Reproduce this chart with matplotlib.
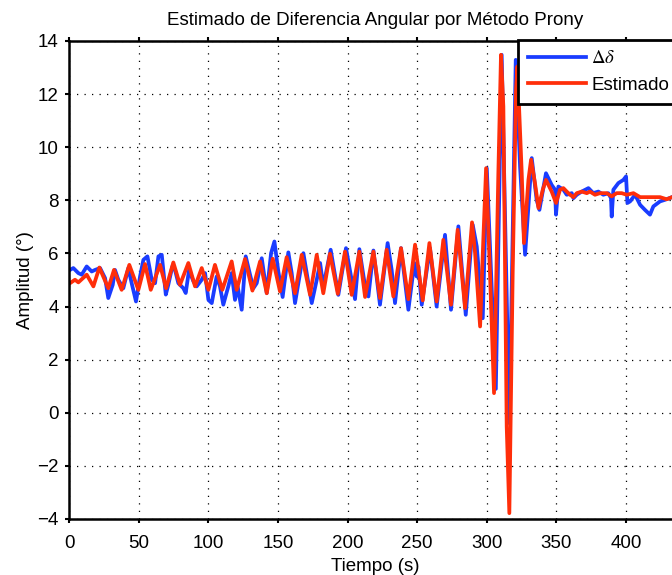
import matplotlib
matplotlib.use("Agg")
import matplotlib.pyplot as plt

plt.rcParams["font.family"] = ["Liberation Sans", "DejaVu Sans"]
plt.rcParams["mathtext.fontset"] = "stix"

t_delta = [0.7, 3.1, 6.7, 9.1, 12.7, 16.3, 18.7, 22.3, 25.9, 28.2, 31.4, 33.0, 35.4,
           39.0, 42.6, 45.0, 48.1, 51.0, 53.4, 56.3, 59.4, 61.8, 64.2, 66.6, 69.5,
           71.3, 74.2, 76.1, 78.5, 82.1, 83.8, 86.2, 89.3, 91.7, 95.3, 97.7, 100.1,
           102.5, 106.0, 108.4, 110.8, 114.4, 116.8, 119.2, 121.1, 124.0, 126.9,
           130.0, 132.4, 134.8, 138.4, 142.0, 145.1, 147.5, 150.3, 153.4, 157.5,
           159.9, 162.3, 168.3, 174.3, 177.9, 180.3, 182.6, 187.9, 193.4, 198.9,
           205.4, 208.5, 212.6, 215.0, 218.6, 223.3, 228.8, 231.7, 234.1, 238.4,
           243.7, 248.0, 249.7, 250.9, 253.3, 259.2, 264.0, 270.0, 274.3, 279.6,
           284.9, 289.9, 292.8, 297.1, 300.0, 306.5, 310.7, 316.2, 320.8, 323.9,
           327.5, 332.3, 335.8, 337.8, 342.5, 346.6, 349.0, 349.7, 351.4, 355.0,
           357.4, 361.0, 362.2, 364.6, 368.2, 373.0, 376.5, 380.1, 383.7, 387.3,
           389.2, 389.7, 390.9, 394.5, 398.1, 400.0, 401.0, 402.9, 406.5, 410.1,
           413.6, 417.2, 419.6, 424.4, 428.0, 433.0]
v_delta = [5.38, 5.45, 5.26, 5.20, 5.51, 5.32, 5.38, 5.45, 5.07, 4.32, 4.82, 5.38, 5.01,
           4.69, 5.45, 4.88, 4.19, 5.13, 5.76, 5.89, 5.01, 4.88, 5.89, 5.95, 4.45,
           4.82, 5.51, 5.38, 4.88, 4.69, 4.51, 5.38, 4.95, 4.76, 5.01, 5.26, 4.25,
           4.13, 5.13, 4.76, 4.07, 4.76, 5.26, 4.25, 4.76, 3.88, 5.89,
           5.20, 4.69, 4.88, 5.82, 4.51, 6.01, 6.45, 5.32, 4.36, 6.04,
           5.26, 4.13, 6.01, 4.13, 5.01, 5.64, 4.76, 6.14, 4.44, 6.20,
           4.28, 6.16, 4.76, 4.38, 6.11, 4.07, 6.39, 5.38, 4.13, 6.20,
           3.88, 5.64, 5.13, 5.51, 4.07, 6.20, 4.00, 6.70, 3.88, 7.02,
           3.69, 7.08, 6.26, 3.56, 9.21, 0.90, 13.48, -0.39, 13.29, 9.27,
           5.95, 9.59, 8.02, 7.64, 9.02, 8.58, 8.40, 7.46, 8.52, 8.40,
           8.21, 8.27, 8.08, 8.21, 8.33, 8.46, 8.27, 8.33, 8.21, 8.27,
           8.08, 7.39, 8.40, 8.65, 8.77, 8.90, 7.90, 7.96, 8.21, 7.83,
           7.64, 7.46, 7.77, 7.96, 8.02, 8.12]

# estimado por Prony
t_est = [0.7, 4.3, 6.7, 12.7, 17.5, 21.8, 28.2, 32.3, 37.8, 43.3, 49.8, 54.6, 58.7,
         65.4, 69.7, 74.9, 79.7, 85.7, 90.5, 95.3, 100.1, 104.8, 110.1, 116.8, 120.4,
         126.4, 131.7, 137.2, 142.0, 146.3, 151.5, 156.3, 162.3, 167.1, 173.1, 177.9,
         182.6, 187.4, 193.0, 198.2, 203.0, 208.5, 212.6, 218.6, 223.3, 228.1, 232.9,
         238.4, 243.7, 248.5, 254.0, 258.8, 264.0, 268.8, 274.3, 279.1, 284.4, 289.4,
         291.6, 295.2, 297.5, 299.5, 302.3, 305.2, 308.3, 310.2, 311.9, 314.3, 316.2,
         318.6, 321.0, 322.0, 325.1, 326.7, 329.9, 331.8, 334.6, 337.1, 340.2, 342.5,
         346.6, 349.7, 352.6, 355.0, 357.4, 359.8, 362.2, 364.6, 368.2, 371.8, 374.1,
         377.7, 381.3, 386.1, 389.7, 393.3, 396.9, 400.5, 405.3, 410.1, 414.8, 419.6,
         424.4, 429.2, 433.0]
v_est = [4.88, 5.01, 4.91, 5.20, 4.76, 5.47, 4.69, 5.38, 4.63, 5.57, 4.63, 5.60, 4.63,
         5.57, 4.69, 5.66, 4.82, 5.64, 4.76, 5.45, 4.63, 5.57, 4.63, 5.70, 4.63,
         5.79, 4.60, 5.70, 4.50, 5.80, 4.57, 5.86, 4.50, 5.95, 4.44, 5.95,
         4.50, 5.99, 4.48, 6.07, 4.44, 6.07, 4.36, 6.07, 4.32, 6.14, 4.38,
         6.20, 4.28, 6.33, 4.23, 6.39, 4.19, 6.51, 4.07, 6.89, 3.94, 7.17,
         6.01, 3.25, 6.51, 9.21, 5.26, 0.74, 9.02, 13.48, 11.53, -0.51, -3.78,
         5.26, 12.16, 13.04, 9.02, 6.39, 8.77, 9.53, 8.65, 7.71, 8.40, 8.77,
         8.33, 7.90, 8.40, 8.46, 8.33, 8.21, 8.12, 8.27, 8.33, 8.27, 8.33,
         8.21, 8.27, 8.27, 8.15, 8.27, 8.27, 8.21, 8.27, 8.12, 8.12, 8.12,
         8.12, 8.04, 8.12]

x_ticks = list(range(0, 401, 50))
y_ticks = list(range(-4, 15, 2))
fs = 13.5

fig = plt.figure(figsize=(6.72, 5.75), dpi=100)
# el eje sigue mas alla del borde derecho (recorte del original)
ax = fig.add_axes([0.1027, 0.0974, 0.9118, 0.8313])

ax.plot(t_delta, v_delta, color="#1a3cff", lw=2.7, solid_joinstyle="round",
        label=r"$\Delta\delta$")
ax.plot(t_est, v_est, color="#ff2e0a", lw=2.7, solid_joinstyle="round",
        label="Estimado")

ax.set_xlim(0, 440)
ax.set_ylim(-4, 14)
ax.set_xticks(x_ticks)
ax.set_yticks(y_ticks)
ax.grid(True, color="black", linestyle=(0, (1, 5)), lw=0.9)
for s in ax.spines.values():
    s.set_linewidth(1.8)
ax.tick_params(direction="out", length=3, width=1.5, top=True, right=True,
               labelsize=fs)
ax.tick_params(axis="x", pad=8.5)
ax.tick_params(axis="y", pad=4.5)

ax.set_title("Estimado de Diferencia Angular por Método Prony", fontsize=fs, pad=11.5)
ax.set_xlabel("Tiempo (s)", fontsize=fs, labelpad=4)
ax.set_ylabel("Amplitud (°)", fontsize=fs, labelpad=2)

leg = ax.legend(loc="upper left", bbox_to_anchor=(518 / 672, 1 - 40 / 575),
                bbox_transform=fig.transFigure, fontsize=fs, frameon=True,
                fancybox=False, framealpha=1, edgecolor="black",
                handlelength=3.05, handletextpad=0.3, borderpad=0.55,
                labelspacing=0.5, borderaxespad=0)
leg.get_frame().set_linewidth(2)

fig.savefig("out.png", dpi=100)
